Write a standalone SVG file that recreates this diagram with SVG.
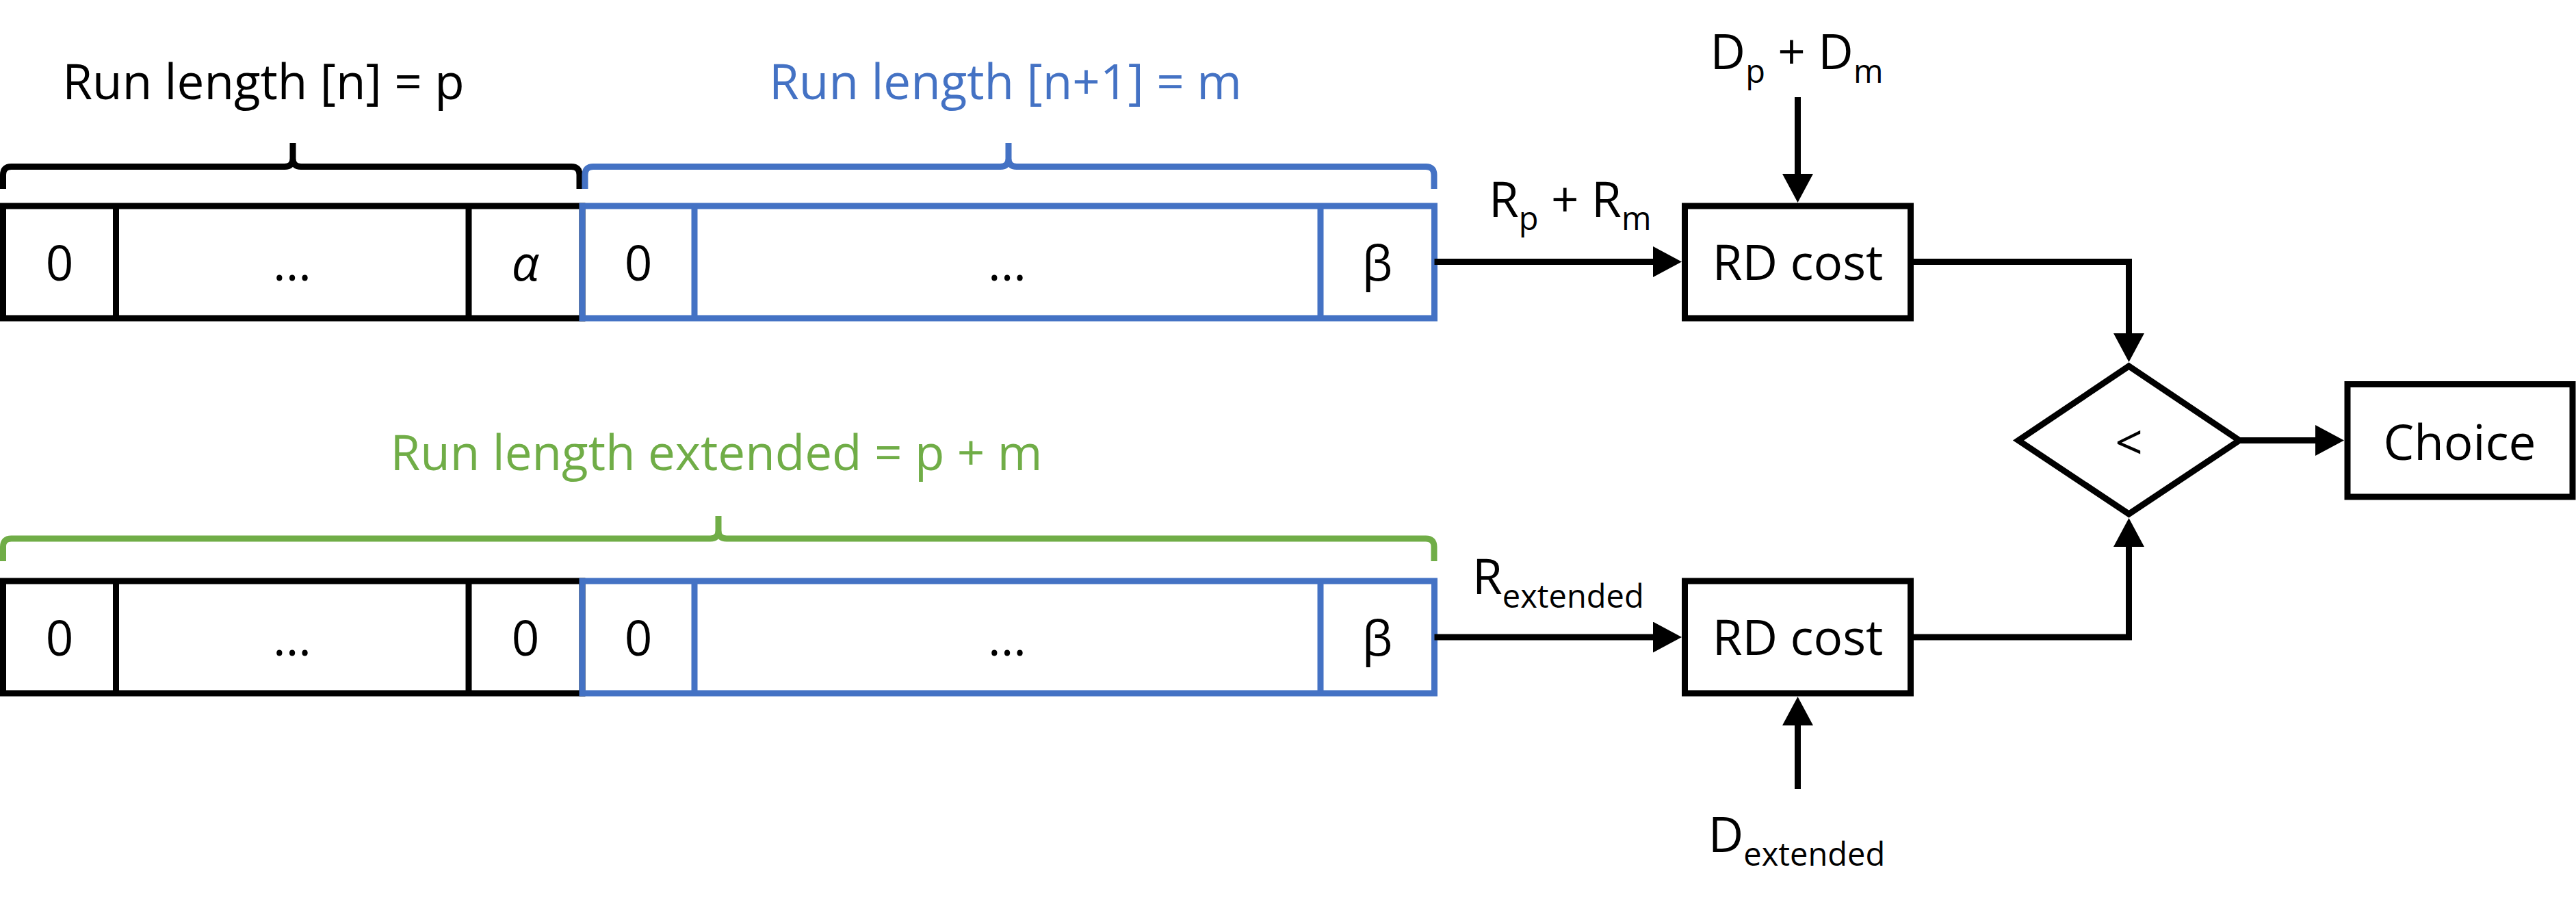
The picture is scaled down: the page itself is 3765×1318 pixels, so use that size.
<svg xmlns="http://www.w3.org/2000/svg" width="3765" height="1318" viewBox="0 0 3765 1318">
<style>
.t{font-family:"Open Sans","Noto Sans",sans-serif;font-size:71px;fill:#000}
.c{text-anchor:middle}
.s{font-size:47px}
.bk{fill:none;stroke:#000;stroke-width:9}
.bl{fill:none;stroke:#4472C4;stroke-width:9}
.gr{fill:none;stroke:#70AD47;stroke-width:9}
.conn{fill:none;stroke:#000;stroke-width:9;stroke-linejoin:miter}
</style>
<defs>
<marker id="arr" markerUnits="userSpaceOnUse" markerWidth="44" markerHeight="46" refX="1" refY="22.5" orient="auto" viewBox="0 0 44 46">
<path d="M0,0 L42,22.5 L0,45 Z" fill="#000"/>
</marker>
</defs>
<rect width="3765" height="1318" fill="#fff"/>

<!-- braces and titles -->
<g id="brace-n">
<path class="bk" d="M4.5,276 V255.5 Q4.5,243.5 16.5,243.5 H416 Q428,243.5 428,231.5 V209 V231.5 Q428,243.5 440,243.5 H835 Q847,243.5 847,255.5 V276"/>
<text class="t c" x="385" y="145">Run length [n] = p</text>
</g>
<g id="brace-n1">
<path class="bl" d="M855,276 V255.5 Q855,243.5 867,243.5 H1462 Q1474,243.5 1474,231.5 V209 V231.5 Q1474,243.5 1486,243.5 H2084 Q2096,243.5 2096,255.5 V276"/>
<text class="t c" x="1469.5" y="145" style="fill:#4472C4">Run length [n+1] = m</text>
</g>
<g id="brace-ext">
<path class="gr" d="M4.5,820 V799 Q4.5,787 16.5,787 H1038 Q1050,787 1050,775 V754 V775 Q1050,787 1062,787 H2084 Q2096,787 2096,799 V820"/>
<text class="t c" x="1047" y="687" style="fill:#70AD47">Run length extended = p + m</text>
</g>

<!-- row 1 -->
<g id="run-n">
<rect class="bk" x="4.5" y="301" width="846.5" height="164"/>
<line class="bk" x1="169.5" y1="301" x2="169.5" y2="465"/>
<line class="bk" x1="685" y1="301" x2="685" y2="465"/>
<text class="t c" x="87" y="410">0</text>
<text class="t c" x="427" y="410">...</text>
<text class="t c" x="768" y="410" font-style="italic">α</text>
</g>
<g id="run-n1">
<rect class="bl" x="851" y="301" width="1245.5" height="164"/>
<line class="bl" x1="1015" y1="301" x2="1015" y2="465"/>
<line class="bl" x1="1930" y1="301" x2="1930" y2="465"/>
<text class="t c" x="933" y="410">0</text>
<text class="t c" x="1472" y="410">...</text>
<text class="t c" x="2013" y="410">β</text>
</g>

<!-- row 2 -->
<g id="run-ext-p">
<rect class="bk" x="4.5" y="849" width="846.5" height="164"/>
<line class="bk" x1="169.5" y1="849" x2="169.5" y2="1013"/>
<line class="bk" x1="685" y1="849" x2="685" y2="1013"/>
<text class="t c" x="87" y="958">0</text>
<text class="t c" x="427" y="958">...</text>
<text class="t c" x="768" y="958">0</text>
</g>
<g id="run-ext-m">
<rect class="bl" x="851" y="849" width="1245.5" height="164"/>
<line class="bl" x1="1015" y1="849" x2="1015" y2="1013"/>
<line class="bl" x1="1930" y1="849" x2="1930" y2="1013"/>
<text class="t c" x="933" y="958">0</text>
<text class="t c" x="1472" y="958">...</text>
<text class="t c" x="2013" y="958">β</text>
</g>

<!-- processing nodes -->
<g id="rd-cost-1">
<rect class="bk" x="2462.5" y="301" width="330" height="164"/>
<text class="t c" x="2627.5" y="409">RD cost</text>
</g>
<g id="rd-cost-2">
<rect class="bk" x="2462.5" y="849" width="330" height="164"/>
<text class="t c" x="2627.5" y="957">RD cost</text>
</g>
<g id="compare">
<polygon class="bk" points="3111.5,535 3273,643.5 3111.5,751 2950,643.5"/>
<text class="t c" x="3111.5" y="672">&lt;</text>
</g>
<g id="choice">
<rect class="bk" x="3431" y="561.5" width="329" height="164.5"/>
<text class="t c" x="3595" y="672">Choice</text>
</g>

<!-- input labels -->
<g id="label-dpdm">
<text class="t c" x="2626" y="101">D<tspan class="s" dy="20">p</tspan><tspan dy="-20"> + D</tspan><tspan class="s" dy="20">m</tspan></text>
</g>
<g id="label-rprm">
<text class="t" x="2176" y="317">R<tspan class="s" dy="19">p</tspan><tspan dy="-19"> + R</tspan><tspan class="s" dy="19">m</tspan></text>
</g>
<g id="label-rext">
<text class="t" x="2152" y="868">R<tspan class="s" dy="20">extended</tspan></text>
</g>
<g id="label-dext">
<text class="t c" x="2626" y="1245">D<tspan class="s" dy="20">extended</tspan></text>
</g>

<!-- connectors -->
<g id="connectors">
<polyline class="conn" points="2096.5,382.5 2417,382.5" marker-end="url(#arr)"/>
<polyline class="conn" points="2096.5,931 2417,931" marker-end="url(#arr)"/>
<polyline class="conn" points="2627.5,142 2627.5,255" marker-end="url(#arr)"/>
<polyline class="conn" points="2627.5,1153 2627.5,1059" marker-end="url(#arr)"/>
<polyline class="conn" points="2792.5,382.5 3111.5,382.5 3111.5,488" marker-end="url(#arr)"/>
<polyline class="conn" points="2792.5,931 3111.5,931 3111.5,798" marker-end="url(#arr)"/>
<polyline class="conn" points="3273,643.5 3385,643.5" marker-end="url(#arr)"/>
</g>
</svg>
